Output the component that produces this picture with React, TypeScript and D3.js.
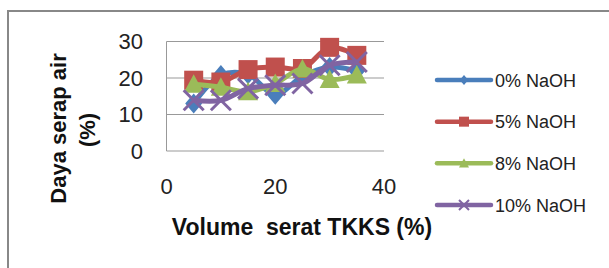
import React from "react";
import * as d3 from "d3";

// volume serat TKKS (%)
const volume = [5, 10, 15, 20, 25, 30, 35];

const naoh0 = [13, 20.8, 21, 15.4, 20.5, 23, 22];
const naoh5 = [19.4, 18.9, 22.3, 23, 22.6, 28.4, 26.2];
const naoh8 = [18.3, 17.5, 16.2, 18.5, 22.5, 19.6, 20.8];
const naoh10 = [13.9, 13.9, 17.1, 18, 18.5, 23.5, 24.4];

const yTicks = [0, 10, 20, 30];
const xTicks = [0, 20, 40];

const series = [
  { name: "0% NaOH", values: naoh0, color: "#4A7EBB", marker: "diamond" },
  { name: "5% NaOH", values: naoh5, color: "#C0504D", marker: "square" },
  { name: "8% NaOH", values: naoh8, color: "#9BBB59", marker: "triangle" },
  { name: "10% NaOH", values: naoh10, color: "#8064A2", marker: "x" },
];

const font = "'Liberation Sans', Arial, sans-serif";

function Marker({ type, x, y, color, size }) {
  const s = size / 2;
  if (type === "diamond") {
    return (
      <path
        d={`M${x},${y - s} L${x + s * 0.85},${y} L${x},${y + s} L${x - s * 0.85},${y} Z`}
        fill={color}
      />
    );
  }
  if (type === "square") {
    return <rect x={x - s} y={y - s} width={size} height={size} fill={color} />;
  }
  if (type === "triangle") {
    return (
      <path
        d={`M${x},${y - s} L${x + s},${y + s * 0.85} L${x - s},${y + s * 0.85} Z`}
        fill={color}
      />
    );
  }
  return (
    <path
      d={`M${x - s},${y - s} L${x + s},${y + s} M${x + s},${y - s} L${x - s},${y + s}`}
      stroke={color}
      strokeWidth={size > 12 ? 3 : 2}
    />
  );
}

export default function App() {
  const x = d3.scaleLinear().domain([0, 40]).range([166.5, 384]);
  const y = d3.scaleLinear().domain([0, 30]).range([151, 41.5]);

  const line = d3
    .line<number>()
    .x((d, i) => x(volume[i]))
    .y((d) => y(d))
    .curve(d3.curveCatmullRom.alpha(0.5));

  const legendY = d3.scalePoint<string>()
    .domain(series.map((s) => s.name))
    .range([80, 205]);

  return (
    <svg
      width={609}
      height={268}
      style={{ position: "absolute", left: 0, top: 0, background: "#fff" }}
    >
      <rect x={8} y={11} width={700} height={400} fill="#fff" stroke="#888" strokeWidth={2} />

      {/* grid */}
      {yTicks.map((t) => (
        <line key={t} x1={x(0)} x2={x(40)} y1={y(t)} y2={y(t)} stroke="#999" strokeWidth={1} />
      ))}
      <line x1={x(0)} x2={x(0)} y1={y(30)} y2={y(0)} stroke="#999" strokeWidth={1} />

      {yTicks.map((t) => (
        <text
          key={t}
          x={143}
          y={y(t) + 7.5}
          textAnchor="end"
          fontFamily={font}
          fontSize={22}
          fill="#222"
        >
          {t}
        </text>
      ))}
      {xTicks.map((t) => (
        <text
          key={t}
          x={x(t)}
          y={194}
          textAnchor="middle"
          fontFamily={font}
          fontSize={22}
          fill="#222"
        >
          {t}
        </text>
      ))}

      {series.map((s) => (
        <g key={s.name}>
          <path
            d={line(s.values)}
            fill="none"
            stroke={s.color}
            strokeWidth={5}
            strokeLinejoin="round"
          />
          {s.values.map((v, i) => (
            <Marker
              key={i}
              type={s.marker}
              x={x(volume[i])}
              y={y(v)}
              color={s.color}
              size={s.marker === "square" ? 19 : 20}
            />
          ))}
        </g>
      ))}

      {/* axis titles */}
      <text
        transform="translate(66,128.5) rotate(-90)"
        textAnchor="middle"
        fontFamily={font}
        fontWeight="bold"
        fontSize={22}
        fill="#111"
      >
        Daya serap air
      </text>
      <text
        transform="translate(95,130) rotate(-90)"
        textAnchor="middle"
        fontFamily={font}
        fontWeight="bold"
        fontSize={22}
        fill="#111"
      >
        (%)
      </text>
      <text
        x={302}
        y={235}
        textAnchor="middle"
        fontFamily={font}
        fontWeight="bold"
        fontSize={23}
        fill="#111"
        style={{ whiteSpace: "pre" }}
      >
        Volume  serat TKKS (%)
      </text>

      {/* legend */}
      {series.map((s) => (
        <g key={s.name}>
          <line
            x1={437}
            x2={491}
            y1={legendY(s.name)}
            y2={legendY(s.name)}
            stroke={s.color}
            strokeWidth={4.5}
            strokeLinecap="round"
          />
          <Marker type={s.marker} x={464} y={legendY(s.name)} color={s.color} size={10} />
          <text
            x={495}
            y={legendY(s.name) + 6.5}
            fontFamily={font}
            fontSize={18}
            fill="#222"
          >
            {s.name}
          </text>
        </g>
      ))}
    </svg>
  );
}
